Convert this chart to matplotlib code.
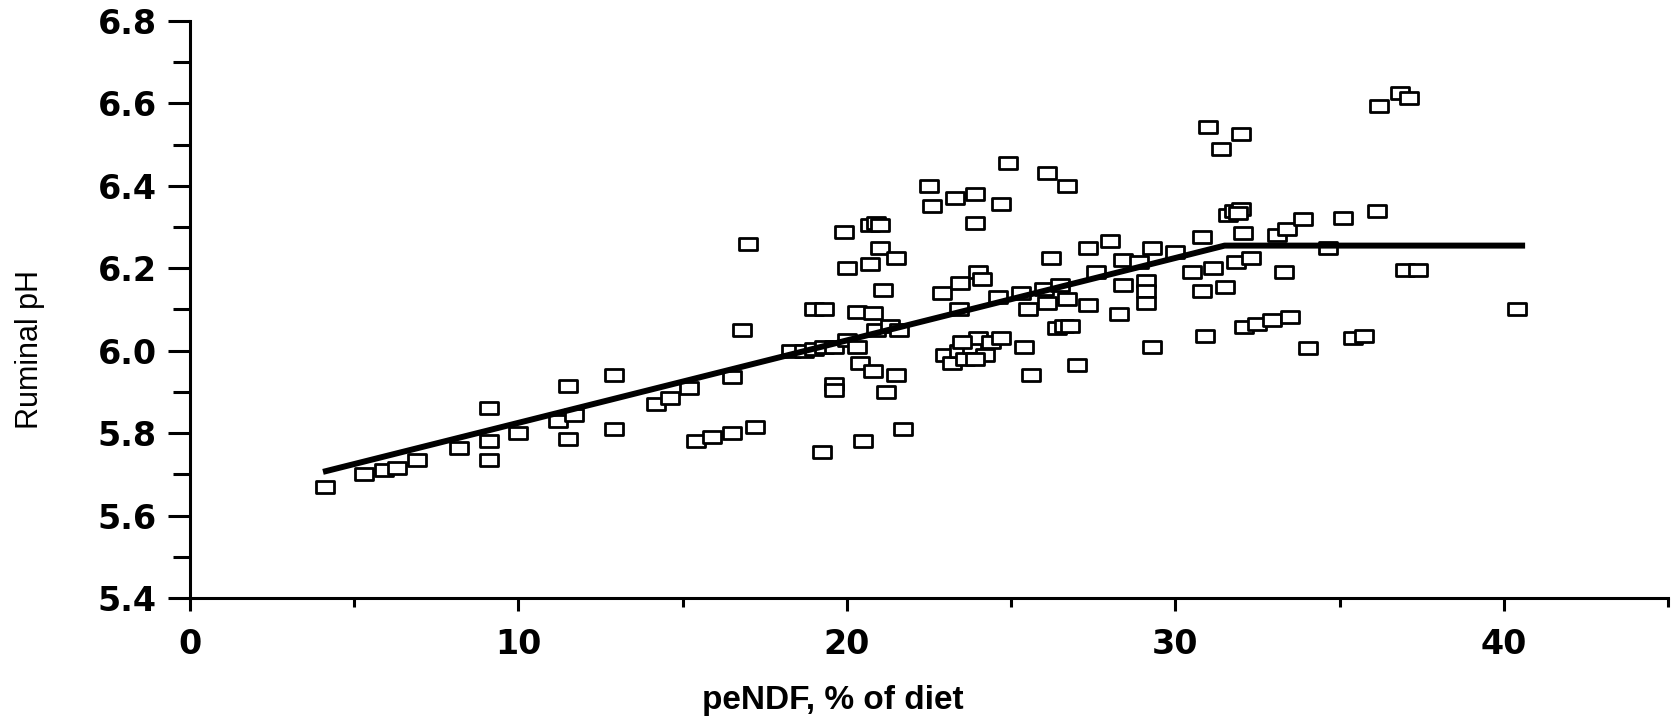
import matplotlib
matplotlib.use("Agg")
import matplotlib.pyplot as plt
from matplotlib.path import Path
from matplotlib.ticker import FixedLocator

# ---------------- data ----------------
pendf = [
    4.1, 5.3, 5.9, 6.3, 6.9, 8.2,
    9.1, 9.1, 9.1, 10.0,
    11.5, 11.5, 11.2, 11.7,
    12.9, 12.9,
    14.2, 14.6, 15.2, 16.5,
    16.8, 17.0,
    15.4, 15.9, 16.5, 17.2,
    19.25, 20.5, 21.7,
    19.6, 19.6,
    18.3, 18.7, 19.0, 19.3, 19.6, 20.0, 20.3,
    19.0, 19.3,
    20.4, 20.8, 21.5, 21.2,
    20.3, 20.8, 21.1,
    19.9, 20.7, 20.9, 21.0,
    21.0, 21.5, 20.0, 20.7,
    20.9, 21.3, 21.6,
    23.0, 23.2, 23.4, 23.6, 23.8, 24.0, 24.2, 24.4, 24.7, 23.5, 23.9,
    22.9, 23.45, 24.0, 24.1, 23.4,
    22.5, 22.6, 23.3, 23.9, 23.9, 24.7, 24.9, 26.1, 26.7,
    24.6, 25.3, 26.0, 26.5,
    25.5, 26.1, 26.7, 26.4, 26.6, 26.8,
    26.2, 25.4, 25.6, 27.0,
    27.35, 28.0, 27.6, 28.4, 28.9, 28.4, 29.1, 29.1, 29.1, 28.3, 27.35,
    29.3, 30.0, 30.8, 32.05, 33.1, 33.4, 34.65, 33.9, 35.1, 36.15,
    31.6, 31.8, 32.0, 31.9,
    30.5, 31.15, 31.85, 32.3, 33.3, 30.8, 31.5,
    30.9, 29.3, 32.1, 32.5, 32.95, 33.5, 34.05, 35.4, 35.75,
    37.0, 37.4, 36.2, 36.85, 37.1,
    31.0, 32.0, 31.4,
    40.4,
]
ruminal_ph = [
    5.67, 5.70, 5.71, 5.715, 5.735, 5.765,
    5.86, 5.78, 5.735, 5.80,
    5.915, 5.785, 5.83, 5.845,
    5.94, 5.81,
    5.87, 5.885, 5.91, 5.935,
    6.05, 6.26,
    5.78, 5.79, 5.80, 5.815,
    5.755, 5.78, 5.81,
    5.92, 5.905,
    6.00, 6.00, 6.005, 6.01, 6.01, 6.025, 6.01,
    6.10, 6.10,
    5.97, 5.95, 5.94, 5.90,
    6.095, 6.092, 6.147,
    6.287, 6.305, 6.31, 6.305,
    6.25, 6.225, 6.20, 6.21,
    6.05, 6.06, 6.05,
    5.99, 5.97, 6.00, 5.98, 6.01, 6.03, 5.99, 6.02, 6.03, 6.02, 5.98,
    6.14, 6.165, 6.19, 6.175, 6.10,
    6.40, 6.35, 6.37, 6.38, 6.31, 6.355, 6.455, 6.43, 6.40,
    6.13, 6.14, 6.15, 6.16,
    6.10, 6.115, 6.125, 6.055, 6.06, 6.06,
    6.225, 6.01, 5.94, 5.965,
    6.25, 6.265, 6.19, 6.22, 6.215, 6.16, 6.17, 6.145, 6.115, 6.09, 6.11,
    6.25, 6.24, 6.275, 6.285, 6.28, 6.295, 6.25, 6.32, 6.323, 6.34,
    6.33, 6.34, 6.345, 6.335,
    6.19, 6.20, 6.215, 6.225, 6.19, 6.145, 6.155,
    6.035, 6.01, 6.058, 6.066, 6.074, 6.082, 6.007, 6.03, 6.035,
    6.196, 6.196, 6.593, 6.626, 6.613,
    6.543, 6.525, 6.49,
    6.10,
]

# broken-line fit
fit_x = [4.05, 31.5, 40.65]
fit_y = [5.706, 6.255, 6.255]

x_ticks = [0, 10, 20, 30, 40]
y_ticks = [5.4, 5.6, 5.8, 6.0, 6.2, 6.4, 6.6, 6.8]
y_tick_labels = ["5.4", "5.6", "5.8", "6.0", "6.2", "6.4", "6.6", "6.8"]

# ---------------- plot ----------------
fig = plt.figure(figsize=(16.74, 7.21), dpi=100)
ax = fig.add_axes([0.1135, 0.1706, 0.8829, 0.8003])

rect = Path([(-1, -0.72), (1, -0.72), (1, 0.72), (-1, 0.72), (-1, -0.72)],
            [Path.MOVETO, Path.LINETO, Path.LINETO, Path.LINETO, Path.CLOSEPOLY])

ax.plot(pendf, ruminal_ph, linestyle="none", marker=rect, markersize=12.5,
        markerfacecolor="white", markeredgecolor="black", markeredgewidth=2.0,
        zorder=2)
ax.plot(fit_x, fit_y, color="black", linewidth=4.3, zorder=3,
        solid_capstyle="butt")

ax.set_xlim(0, 45)
ax.set_ylim(5.4, 6.8)

for s in ["top", "right"]:
    ax.spines[s].set_visible(False)
for s in ["left", "bottom"]:
    ax.spines[s].set_linewidth(2.2)

ax.xaxis.set_major_locator(FixedLocator(x_ticks))
ax.xaxis.set_minor_locator(FixedLocator([5, 15, 25, 35, 45]))
ax.set_yticks(y_ticks)
ax.set_yticklabels(y_tick_labels)
ax.yaxis.set_minor_locator(FixedLocator([5.5, 5.7, 5.9, 6.1, 6.3, 6.5, 6.7]))

ax.tick_params(axis="x", which="major", direction="out", length=9.5,
               width=2.2, color="black", pad=12)
ax.tick_params(axis="x", which="minor", direction="out", length=6.5,
               width=2.2, color="black")
ax.tick_params(axis="y", which="major", direction="out", length=16,
               width=2.2, color="black", pad=8)
ax.tick_params(axis="y", which="minor", direction="out", length=12,
               width=2.2, color="black")

for lab in ax.get_xticklabels():
    lab.set_fontfamily(["DejaVu Sans"])
    lab.set_fontweight("bold")
    lab.set_fontsize(24)
for lab in ax.get_yticklabels():
    lab.set_fontfamily(["DejaVu Sans"])
    lab.set_fontweight("bold")
    lab.set_fontsize(24)

ax.set_xlabel("peNDF, % of diet", fontsize=24, fontweight="bold",
              family=["Liberation Sans"])
ax.set_ylabel("Ruminal pH", fontsize=22, family=["Liberation Sans"])
ax.xaxis.set_label_coords(0.435, -0.15)
ax.yaxis.set_label_coords(-0.098, 0.43)

fig.savefig("out.png", dpi=100, facecolor="white")
